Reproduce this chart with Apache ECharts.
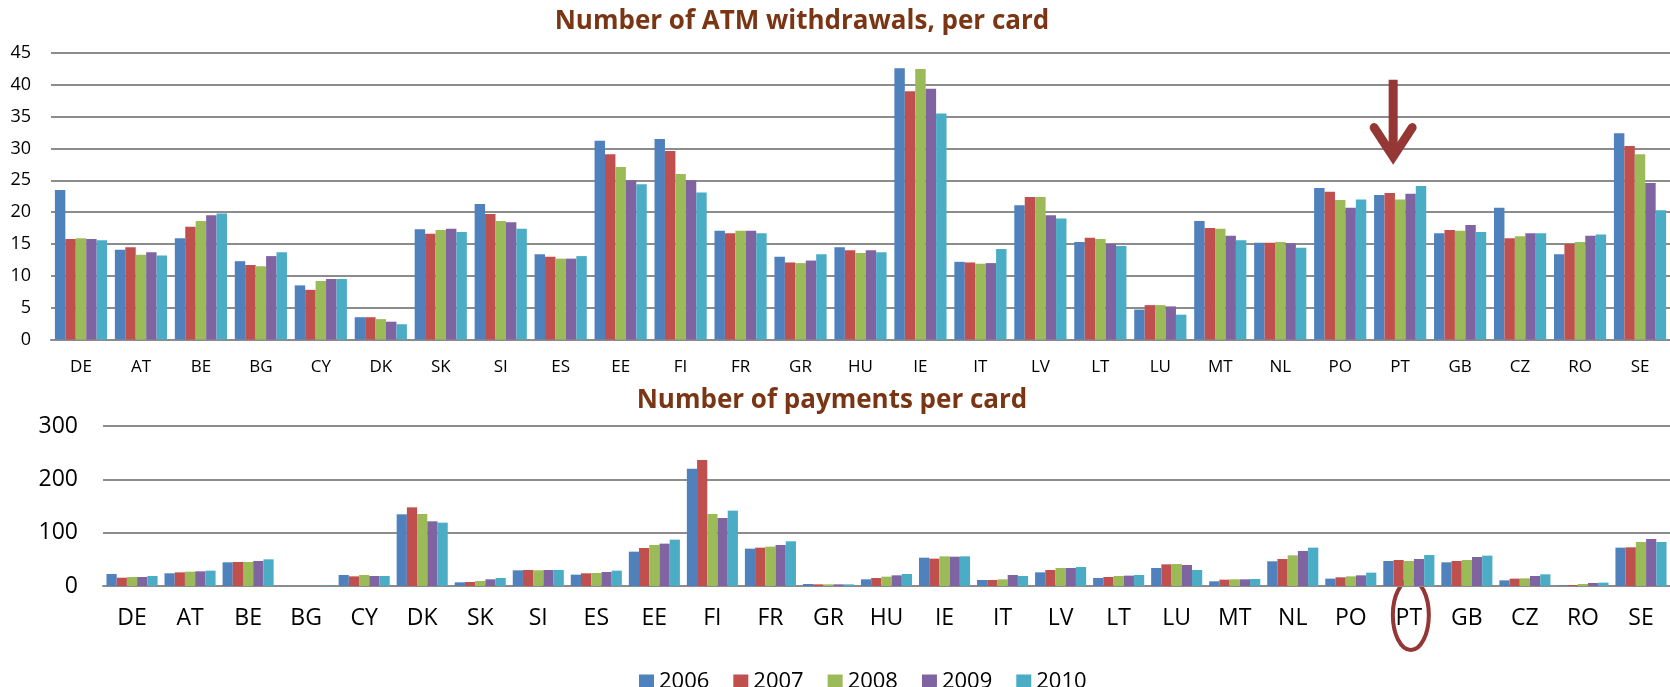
<!DOCTYPE html>
<html>
<head>
<meta charset="utf-8">
<script src="https://cdn.jsdelivr.net/npm/echarts/dist/echarts.min.js"></script>
<style>
  html, body { margin: 0; padding: 0; background: #fff; }
  #main { width: 1670px; height: 687px; }
</style>
</head>
<body>
<div id="main"></div>
<script>
// countries, same order in both panels
const countries = ['DE', 'AT', 'BE', 'BG', 'CY', 'DK', 'SK', 'SI', 'ES', 'EE', 'FI', 'FR', 'GR', 'HU', 'IE',
  'IT', 'LV', 'LT', 'LU', 'MT', 'NL', 'PO', 'PT', 'GB', 'CZ', 'RO', 'SE']
const years = ['2006', '2007', '2008', '2009', '2010']
const colors = ['#4F81BD', '#C0504D', '#9BBB59', '#8064A2', '#4BACC6']

// ATM withdrawals per card
const atm2006 = [23.5, 14.1, 15.9, 12.3, 8.5, 3.5, 17.3, 21.3, 13.4, 31.2, 31.5, 17.1, 13.0, 14.5, 42.6, 12.2, 21.1, 15.3, 4.7, 18.6, 15.2, 23.8, 22.7, 16.7, 20.7, 13.4, 32.4]
const atm2007 = [15.8, 14.5, 17.7, 11.7, 7.8, 3.5, 16.6, 19.7, 13.0, 29.1, 29.6, 16.7, 12.1, 14.0, 39.0, 12.1, 22.4, 16.0, 5.4, 17.5, 15.2, 23.2, 23.0, 17.2, 15.9, 15.0, 30.4]
const atm2008 = [15.9, 13.3, 18.6, 11.5, 9.2, 3.2, 17.2, 18.6, 12.7, 27.1, 26.0, 17.1, 12.0, 13.6, 42.5, 11.9, 22.4, 15.8, 5.4, 17.4, 15.3, 21.9, 22.0, 17.1, 16.2, 15.3, 29.1]
const atm2009 = [15.8, 13.7, 19.5, 13.1, 9.5, 2.8, 17.4, 18.4, 12.7, 25.0, 25.0, 17.1, 12.4, 14.0, 39.4, 12.0, 19.5, 15.0, 5.2, 16.3, 15.1, 20.7, 22.9, 18.0, 16.7, 16.3, 24.6]
const atm2010 = [15.6, 13.2, 19.8, 13.7, 9.5, 2.4, 16.9, 17.4, 13.1, 24.4, 23.1, 16.7, 13.4, 13.7, 35.5, 14.2, 19.0, 14.7, 3.9, 15.6, 14.4, 22.0, 24.1, 16.9, 16.7, 16.5, 20.3]

// payments per card
const pay2006 = [22.5, 23.8, 44.4, 0, 20.6, 134.4, 6.9, 29.4, 21.3, 64.4, 220, 70, 3.8, 12.5, 53.1, 11.3, 25.6, 15, 33.8, 8.8, 46.3, 13.8, 46.9, 44.4, 10.6, 1.2, 71.9]
const pay2007 = [15.6, 25.6, 45, 0, 18.1, 147.5, 7.5, 30, 23.8, 71.3, 236.3, 71.9, 3.1, 15, 51.3, 11.3, 30, 16.9, 40.6, 11.9, 50.6, 16.3, 48.8, 46.9, 13.8, 1.9, 72.5]
const pay2008 = [16.9, 26.9, 45, 0, 20.6, 135, 9.4, 29.4, 24.4, 76.9, 135, 73.8, 3.1, 17.5, 55.6, 12.5, 33.8, 18.8, 41.3, 12.5, 57.5, 18.1, 46.9, 48.8, 14.4, 3.8, 82.5]
const pay2009 = [16.9, 27.5, 46.9, 0, 18.8, 121.3, 12.5, 30, 26.3, 79.4, 127.5, 76.9, 3.1, 20, 55, 20.6, 33.8, 19.4, 39.4, 12.5, 65.6, 20, 50.6, 54.4, 18.8, 5.6, 88.1]
const pay2010 = [18.8, 28.8, 50, 1, 18.8, 118.8, 15, 30, 28.8, 86.9, 141.3, 83.8, 3.1, 22.5, 55.6, 18.8, 35.6, 20.6, 30, 13.1, 71.9, 25, 58.1, 56.9, 21.9, 6.3, 82.5]

const atmData = [atm2006, atm2007, atm2008, atm2009, atm2010]
const payData = [pay2006, pay2007, pay2008, pay2009, pay2010]

// arrow above PT in the top panel (value units)
const arrowCountry = 'PT'
const arrowTop = 40.8
const arrowTip = 28.1

const font = 'Open Sans, sans-serif'
const titleColor = '#7A3614'
const gridLine = { lineStyle: { color: '#8c8c8c', width: 2 } }

function barSeries (data, axis) {
  return data.map((vals, i) => ({
    name: years[i],
    type: 'bar',
    xAxisIndex: axis,
    yAxisIndex: axis,
    barGap: 0,
    barCategoryGap: axis === 0 ? '13%' : '12%',
    itemStyle: { color: colors[i] },
    data: vals
  }))
}

const chart = echarts.init(document.getElementById('main'))
chart.setOption({
  animation: false,
  color: colors,
  title: [
    {
      text: 'Number of ATM withdrawals, per card',
      left: 797,
      top: 4,
      textAlign: 'center',
      textStyle: { fontFamily: font, fontSize: 26, fontWeight: 'bold', color: titleColor }
    },
    {
      text: 'Number of payments per card',
      left: 827,
      top: 383,
      textAlign: 'center',
      textStyle: { fontFamily: font, fontSize: 26, fontWeight: 'bold', color: titleColor }
    }
  ],
  legend: {
    data: years,
    left: 634,
    top: 666,
    icon: 'rect',
    itemWidth: 15,
    itemHeight: 15,
    itemGap: 24,
    textStyle: { fontFamily: font, fontSize: 22, color: '#000' }
  },
  grid: [
    { left: 51, right: 0, top: 53, bottom: 347.5 },
    { left: 103, right: 0, top: 426, bottom: 101 }
  ],
  xAxis: [
    {
      type: 'category',
      gridIndex: 0,
      data: countries,
      axisTick: { show: false },
      axisLine: gridLine,
      axisLabel: { fontFamily: font, fontSize: 17, color: '#000', margin: 19, interval: 0 }
    },
    {
      type: 'category',
      gridIndex: 1,
      data: countries,
      axisTick: { show: false },
      axisLine: gridLine,
      axisLabel: { fontFamily: font, fontSize: 23, color: '#000', margin: 21, interval: 0 }
    }
  ],
  yAxis: [
    {
      type: 'value',
      gridIndex: 0,
      min: 0,
      max: 45,
      interval: 5,
      splitLine: gridLine,
      axisLabel: { fontFamily: font, fontSize: 18, color: '#000', margin: 20 }
    },
    {
      type: 'value',
      gridIndex: 1,
      min: 0,
      max: 300,
      interval: 100,
      splitLine: gridLine,
      axisLabel: { fontFamily: font, fontSize: 23, color: '#000', margin: 25 }
    }
  ],
  series: barSeries(atmData, 0).concat(barSeries(payData, 1))
})

// annotations: arrow over PT on top, ellipse around PT label below
const arrowStart = chart.convertToPixel({ xAxisIndex: 0, yAxisIndex: 0 }, [arrowCountry, arrowTop])
const arrowEnd = chart.convertToPixel({ xAxisIndex: 0, yAxisIndex: 0 }, [arrowCountry, arrowTip])
const labelPos = chart.convertToPixel({ xAxisIndex: 1, yAxisIndex: 1 }, [arrowCountry, 0])
const ax = arrowStart[0] - 7
chart.setOption({
  graphic: [
    {
      type: 'line',
      shape: { x1: ax, y1: arrowStart[1], x2: ax, y2: arrowEnd[1] - 6 },
      style: { stroke: '#953735', lineWidth: 9 }
    },
    {
      type: 'polyline',
      shape: { points: [[ax - 19, arrowEnd[1] - 33], [ax, arrowEnd[1] - 4], [ax + 19, arrowEnd[1] - 33]] },
      style: { stroke: '#953735', lineWidth: 9, fill: null, lineCap: 'round', lineJoin: 'miter' }
    },
    {
      type: 'ellipse',
      shape: { cx: labelPos[0] + 2, cy: labelPos[1] + 29, rx: 18, ry: 35 },
      style: { stroke: '#943634', lineWidth: 4, fill: null }
    }
  ]
})
</script>
</body>
</html>
